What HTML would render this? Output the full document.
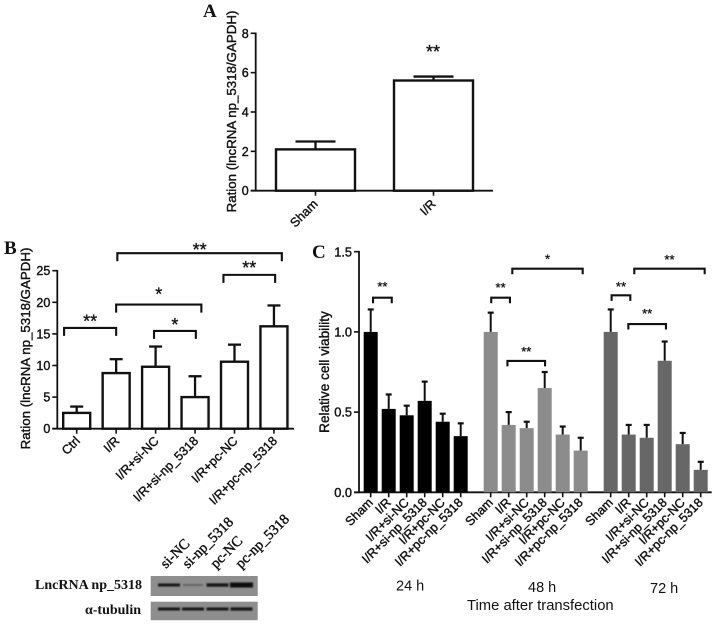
<!DOCTYPE html>
<html>
<head>
<meta charset="utf-8">
<style>
html,body{margin:0;padding:0;background:#fff;}
svg{display:block;filter:blur(0.35px);}
text{font-family:"Liberation Sans",sans-serif;fill:#111;}
.serif{font-family:"Liberation Serif",serif;font-weight:bold;}
</style>
</head>
<body>
<svg id="figure" width="716" height="624" viewBox="0 0 716 624" xmlns="http://www.w3.org/2000/svg">
<defs><filter id="soft" x="-20%" y="-100%" width="140%" height="300%"><feGaussianBlur stdDeviation="0.9"></feGaussianBlur></filter></defs>
</svg>
<script>
// Panel A data
const aCategories = ['Sham', 'I/R'];
const aValues = [2.1, 5.6];
const aErrTops = [2.5, 5.8];
const aTicks = [0, 2, 4, 6, 8];
// Panel B data
const bCategories = ['Ctrl', 'I/R', 'I/R+si-NC', 'I/R+si-np_5318', 'I/R+pc-NC', 'I/R+pc-np_5318'];
const bValues = [2.5, 8.8, 9.8, 5, 10.6, 16.2];
const bErrTops = [3.5, 11, 13, 8.3, 13.3, 19.5];
const bTicks = [0, 5, 10, 15, 20, 25];
const bBracketFrom = [1.03, 3.72, 1.0, -0.32, 1.96];
const bBracketTo = [5.2, 5.03, 3.16, 1.0, 3.02];
const bBracketLevel = [27.77, 24.34, 19.64, 15.95, 15.47];
const bBracketStarLevel = [29, 26.1, 21.9, 17.65, 17.15];
const bBracketLabel = ['**', '**', '*', '**', '*'];
// Panel C data
const cCategories = ['Sham', 'I/R', 'I/R+si-NC', 'I/R+si-np_5318', 'I/R+pc-NC', 'I/R+pc-np_5318'];
const cGroups = ['24 h', '48 h', '72 h'];
const cValues24 = [1, 0.52, 0.48, 0.57, 0.44, 0.35];
const cErrTops24 = [1.14, 0.61, 0.54, 0.69, 0.49, 0.43];
const cValues48 = [1, 0.42, 0.40, 0.65, 0.36, 0.26];
const cErrTops48 = [1.12, 0.50, 0.44, 0.75, 0.41, 0.34];
const cValues72 = [1, 0.36, 0.34, 0.82, 0.30, 0.14];
const cErrTops72 = [1.14, 0.42, 0.42, 0.94, 0.37, 0.19];
const cTicks = [0, 0.5, 1, 1.5];
const cBracketGroup = [0, 1, 1, 1, 2, 2, 2];
const cBracketFrom = [0.13, 0.03, 1.2, 0.93, 0.05, 1.31, 0.98];
const cBracketTo = [1.17, 1.07, 5.11, 3.02, 1.09, 5.22, 3.07];
const cBracketLevel = [1.213, 1.213, 1.394, 0.819, 1.228, 1.394, 1.049];
const cBracketStarLevel = [1.302, 1.296, 1.473, 0.897, 1.302, 1.469, 1.134];
const cBracketLabel = ['**', '**', '*', '**', '**', '**', '**'];

const svg = document.getElementById('figure');
const NS = 'http://www.w3.org/2000/svg';

function add(tag, attrs, name, txt) {
  const el = document.createElementNS(NS, tag);
  for (const k in attrs) el.setAttribute(k, attrs[k]);
  
  
  if (txt !== undefined) el.textContent = txt;
  svg.appendChild(el);
  return el;
}
function line(x1, y1, x2, y2, w, name, color) {
  return add('line', {x1: x1, y1: y1, x2: x2, y2: y2, stroke: color || '#111', 'stroke-width': w}, name);
}
function rotLabel(x, y, txt, size, name) {
  return add('text', {x: x, y: y, 'font-size': size, 'text-anchor': 'end', stroke: '#111', 'stroke-width': 0.4,
    transform: 'rotate(-45 ' + x + ' ' + y + ')'}, name, txt);
}
function yTitle(x, y, txt, size, name) {
  return add('text', {x: x, y: y, 'font-size': size, 'text-anchor': 'middle', stroke: '#111', 'stroke-width': 0.4,
    transform: 'rotate(-90 ' + x + ' ' + y + ')'}, name, txt);
}
function star(x, cy, txt, size, name) {
  return add('text', {x: x, y: cy + size * 0.58, 'font-size': size, 'text-anchor': 'middle', stroke: '#111', 'stroke-width': 0.3}, name, txt);
}
function yAxis(axisX, yFn, ticks, right, fmt, size, prefix) {
  const y0 = yFn(0);
  line(axisX, yFn(ticks[ticks.length - 1]) - 0.8, axisX, y0 + 0.8, 1.8, prefix + '-y-axis');
  line(axisX - 5, y0, right, y0, 1.8, prefix + '-x-axis');
  ticks.forEach(function (t) {
    line(axisX - 5, yFn(t), axisX, yFn(t), 1.6, prefix + '-y-tick');
    add('text', {x: axisX - 7, y: yFn(t) + size * 0.36, 'font-size': size, 'text-anchor': 'end', stroke: '#111', 'stroke-width': 0.4},
      prefix + '-y-tick-label', fmt(t));
  });
}
function bracket(x1, x2, y, drop, w, name) {
  return add('path', {d: 'M' + x1 + ' ' + (y + drop) + 'V' + y + 'H' + x2 + 'V' + (y + drop), fill: 'none', stroke: '#111', 'stroke-width': w}, name);
}

// ---------- Panel A
const aY = function (v) { return 190.7 - v * (157.4 / 8); };
const aX = function (i) { return 315.5 + i * 118; };
yAxis(255.7, aY, aTicks, 493, String, 12.5, 'panel-a');
aCategories.forEach(function (c, i) {
  line(aX(i), aY(aValues[i]), aX(i), aY(aErrTops[i]), 2.3, 'panel-a-error-bar');
  line(aX(i) - 20, aY(aErrTops[i]), aX(i) + 20, aY(aErrTops[i]), 2.3, 'panel-a-error-cap');
  add('rect', {x: aX(i) - 39.5, y: aY(aValues[i]), width: 79, height: aY(0) - aY(aValues[i]), fill: '#fff', stroke: '#111', 'stroke-width': 2.4}, 'panel-a-bar');
  line(aX(i), aY(0), aX(i), aY(0) + 5, 1.6, 'panel-a-x-tick');
  rotLabel(aX(i) + 3, aY(0) + 14, c, 12.6, 'panel-a-x-label');
});
star(433, 47.7, '**', 18, 'panel-a-significance');
yTitle(236, 111.5, 'Ration (lncRNA np_5318/GAPDH)', 13.3, 'panel-a-y-title');
add('text', {x: 203, y: 17, 'font-size': 19, 'class': 'serif'}, 'panel-a-letter', 'A');

// ---------- Panel B
const bY = function (v) { return 428.7 - v * (158 / 25); };
const bX = function (i) { return 76.7 + i * 39.45; };
yAxis(57.3, bY, bTicks, 294, String, 12.5, 'panel-b');
bCategories.forEach(function (c, i) {
  line(bX(i), bY(bValues[i]), bX(i), bY(bErrTops[i]), 2.3, 'panel-b-error-bar');
  line(bX(i) - 6.5, bY(bErrTops[i]), bX(i) + 6.5, bY(bErrTops[i]), 2.3, 'panel-b-error-cap');
  add('rect', {x: bX(i) - 13.5, y: bY(bValues[i]), width: 27, height: bY(0) - bY(bValues[i]), fill: '#fff', stroke: '#111', 'stroke-width': 2.4}, 'panel-b-bar');
  line(bX(i), bY(0), bX(i), bY(0) + 5, 1.6, 'panel-b-x-tick');
  rotLabel(bX(i) + 4, bY(0) + 13, c, 12.6, 'panel-b-x-label');
});
bBracketFrom.forEach(function (f, k) {
  const a = bX(f), b = bX(bBracketTo[k]);
  bracket(a, b, bY(bBracketLevel[k]), 8, 2.1, 'panel-b-bracket');
  star((a + b) / 2, bY(bBracketStarLevel[k]), bBracketLabel[k], 18, 'panel-b-significance');
});
yTitle(30, 348.5, 'Ration (lncRNA np_5318/GAPDH)', 13.3, 'panel-b-y-title');
add('text', {x: 4, y: 254, 'font-size': 19, 'class': 'serif'}, 'panel-b-letter', 'B');

// ---------- Panel C
const cY = function (v) { return 492.3 - v * 160.4; };
const cX = function (g, i) { return 370.7 + g * 120 + i * 18; };
const fillColors = ['#000000', '#8c8c8c', '#676767'];
const allValues = [cValues24, cValues48, cValues72];
const allErr = [cErrTops24, cErrTops48, cErrTops72];
yAxis(359, cY, cTicks, 711.7, function (t) { return t.toFixed(1); }, 12.8, 'panel-c');
cGroups.forEach(function (g, gi) {
  cCategories.forEach(function (c, i) {
    const x = cX(gi, i), v = allValues[gi][i], e = allErr[gi][i];
    line(x, cY(v), x, cY(e), 2, 'panel-c-error-bar');
    line(x - 3, cY(e), x + 3, cY(e), 2.2, 'panel-c-error-cap');
    add('rect', {x: x - 7, y: cY(v), width: 14, height: cY(0) - cY(v), fill: fillColors[gi]}, 'panel-c-bar');
    line(x, cY(0), x, cY(0) + 5, 1.6, 'panel-c-x-tick');
    rotLabel(x + 3, cY(0) + 11, c, 12.6, 'panel-c-x-label');
  });
});
cBracketFrom.forEach(function (f, k) {
  const g = cBracketGroup[k];
  const a = cX(g, f), b = cX(g, cBracketTo[k]);
  bracket(a, b, cY(cBracketLevel[k]), 5.5, 2.1, 'panel-c-bracket');
  star((a + b) / 2, cY(cBracketStarLevel[k]), cBracketLabel[k], 13, 'panel-c-significance');
});
yTitle(329, 372, 'Relative cell viability', 13.6, 'panel-c-y-title');
add('text', {x: 312, y: 258, 'font-size': 19, 'class': 'serif'}, 'panel-c-letter', 'C');
add('text', {x: 396, y: 590.7, 'font-size': 14.5}, 'group-label-24h', cGroups[0]);
add('text', {x: 528, y: 592, 'font-size': 14.5}, 'group-label-48h', cGroups[1]);
add('text', {x: 650, y: 593, 'font-size': 14.5}, 'group-label-72h', cGroups[2]);
add('text', {x: 467, y: 610, 'font-size': 14.8}, 'panel-c-x-title', 'Time after transfection');

// ---------- Western blot
add('rect', {x: 150.7, y: 576, width: 107, height: 20, fill: '#8e8e8e'}, 'blot-lncrna-background');
add('rect', {x: 150.7, y: 601.7, width: 107, height: 18.5, fill: '#8e8e8e'}, 'blot-tubulin-background');
const blotBandX = [169, 193, 217.5, 241.5];
const blotBandW = [22, 20, 22, 23];
const blotLncThickness = [3, 1.5, 3.5, 5];
const blotLncColor = ['#141414', '#555555', '#141414', '#0c0c0c'];
const blotTubThickness = [3, 3, 3, 3.2];
blotBandX.forEach(function (x, i) {
  add('rect', {x: x - blotBandW[i] / 2, y: 585 - blotLncThickness[i] / 2, width: blotBandW[i], height: blotLncThickness[i], fill: blotLncColor[i], filter: 'url(#soft)'}, 'blot-lncrna-band');
  add('rect', {x: x - 11, y: 609 - blotTubThickness[i] / 2, width: 22, height: blotTubThickness[i], fill: '#141414', filter: 'url(#soft)'}, 'blot-tubulin-band');
});
add('text', {x: 142, y: 589, 'font-size': 14, 'text-anchor': 'end', 'class': 'serif'}, 'blot-lncrna-label', 'LncRNA np_5318');
add('text', {x: 141, y: 614, 'font-size': 14, 'text-anchor': 'end', 'class': 'serif'}, 'blot-tubulin-label', 'α-tubulin');
const blotLanes = ['si-NC', 'si-np_5318', 'pc-NC', 'pc-np_5318'];
const blotLaneStart = [166, 188, 216, 241];
blotLanes.forEach(function (l, i) {
  const x = blotLaneStart[i], y = 569;
  add('text', {x: x, y: y, 'font-size': 14.5, style: 'font-family:"Liberation Serif",serif',
    stroke: '#111', 'stroke-width': 0.45, transform: 'rotate(-45 ' + x + ' ' + y + ')'}, 'blot-lane-label', l);
});
</script>
</body>
</html>
